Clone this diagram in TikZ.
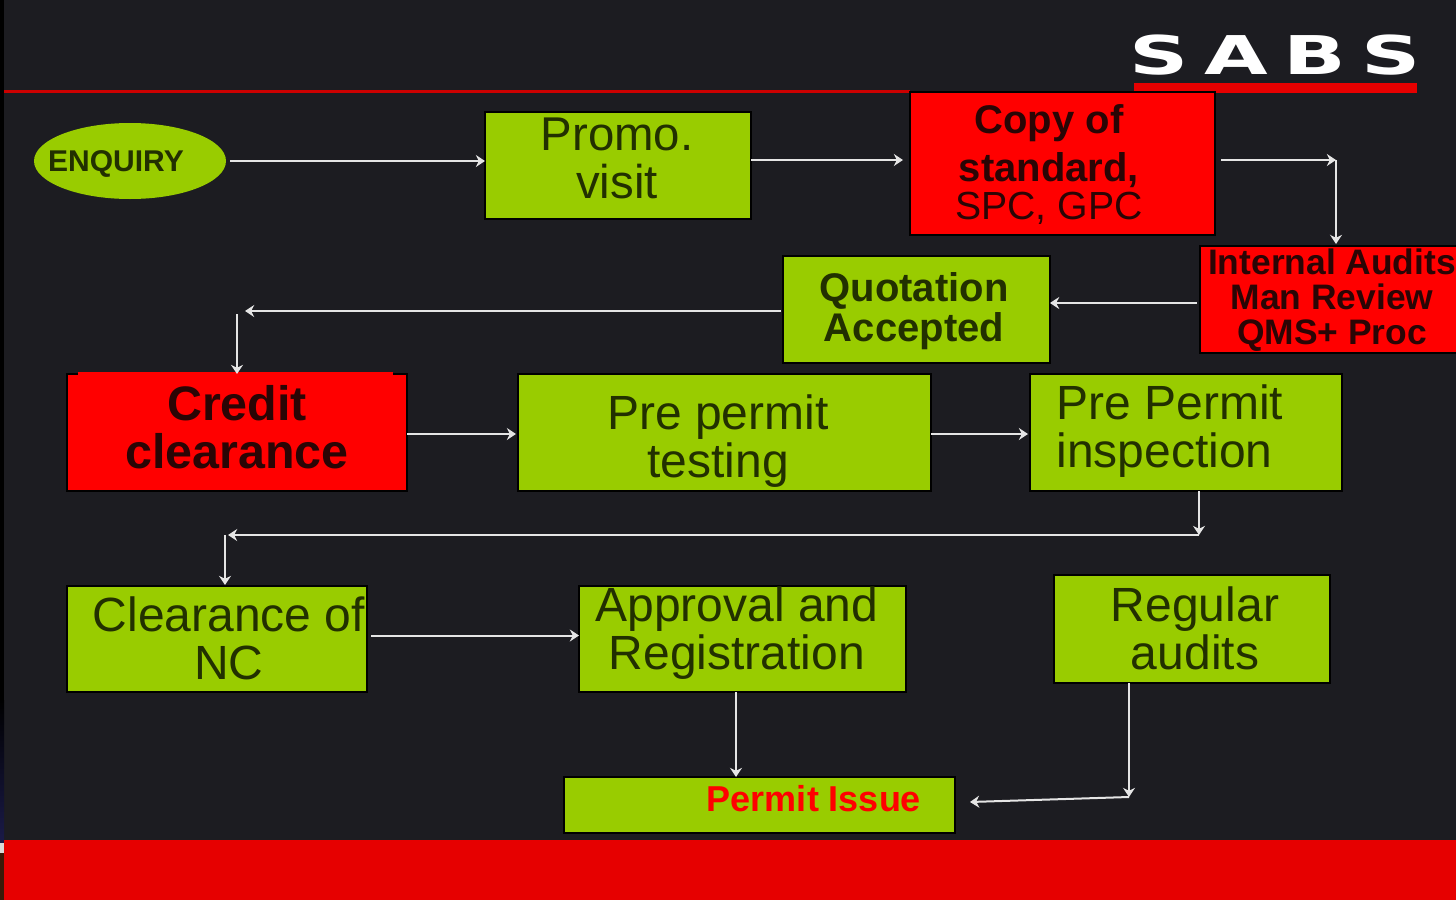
\documentclass[tikz,border=0pt]{standalone}
\usepackage{fontspec}
\setmainfont{Liberation Sans}
\newfontfamily\logofont{DejaVu Sans}
\usetikzlibrary{arrows.meta,shapes.geometric,calc}
\definecolor{bg}{HTML}{1C1C21}
\definecolor{grn}{HTML}{99CC00}
\definecolor{redbox}{HTML}{FF0000}
\definecolor{band}{HTML}{E60000}
\definecolor{rule}{HTML}{CC0000}
\definecolor{ink}{HTML}{223000}
\definecolor{inkred}{HTML}{2A0505}
\definecolor{stripnavy}{HTML}{1A1A48}
\definecolor{stripbrown}{HTML}{3A1A08}
\tikzset{
 x=.5pt,y=-.5pt,
 stepbox/.style={draw=black,line width=.9pt,inner sep=0pt,outer sep=0pt},
 greenbox/.style={stepbox,fill=grn},
 hotbox/.style={stepbox,fill=redbox},
 lab/.style={inner sep=0pt,align=center,text=ink},
 labred/.style={lab,text=inkred},
 conn/.style={draw=white!90!black,line width=1pt,-{Stealth[length=4.6pt,width=6pt]}},
}
\newcommand{\fs}[1]{\fontsize{#1}{24}\selectfont}
\begin{document}
\begin{tikzpicture}
\clip (0,0) rectangle (1456,900);
\fill[bg] (0,0) rectangle (1456,900);
\fill[black] (0,0) rectangle (4,700);
\shade[top color=black,bottom color=stripnavy] (0,700) rectangle (4,842);
\fill[band] (4,840) rectangle (1456,900);
\fill[white!85!black] (0,843) rectangle (4,853);
\fill[stripbrown] (0,853) rectangle (4,900);
\fill[rule] (4,89.5) rectangle (910,93);
% logo
\node[inner sep=0pt,text=white] (logo) at (1275,55.5) {\scalebox{1.54}[1]{\fontsize{26.7}{27}\logofont\addfontfeature{LetterSpace=19}\bfseries SABS}};
\fill[band] (1134,83) rectangle (1417,93);
% boxes
\node[fill=grn,ellipse,inner sep=0pt,outer sep=0pt,minimum width=96pt,minimum height=38pt] (enq) at (130,161) {};
\node[greenbox,minimum width=133pt,minimum height=53.5pt] (promo) at (618,165.5) {};
\node[hotbox,minimum width=152.5pt,minimum height=71.5pt] (copy) at (1062.5,163.5) {};
\node[hotbox,minimum width=130pt,minimum height=53.5pt] (internal) at (1330,299.5) {};
\node[greenbox,minimum width=133.5pt,minimum height=53.5pt] (quote) at (916.5,309.5) {};
\node[hotbox,minimum width=170pt,minimum height=58.5pt] (credit) at (237,432.5) {};
\fill[redbox] (78,372) rectangle (393,376);
\node[greenbox,minimum width=206.5pt,minimum height=58.5pt] (pretest) at (724.5,432.5) {};
\node[greenbox,minimum width=156pt,minimum height=58.5pt] (preinsp) at (1186,432.5) {};
\node[greenbox,minimum width=150pt,minimum height=53pt] (clear) at (217,639) {};
\node[greenbox,minimum width=163.5pt,minimum height=53pt] (approval) at (742.5,639) {};
\node[greenbox,minimum width=138pt,minimum height=54pt] (regular) at (1192,629) {};
\node[greenbox,minimum width=195.5pt,minimum height=28pt] (permit) at (759.5,805) {};
% helper corners
\coordinate (c1) at (1336,160);
\coordinate (c2) at (237,311);
\coordinate (c3) at (1199,535);
\coordinate (c4) at (225,535);
\coordinate (c5) at (1129,797);
% labels
\node[lab,font=\fs{15}\bfseries] (enqt) at (116,164) {ENQUIRY};
\node[lab,font=\fs{23.7}] (promot) at (617,158) {Promo.\\visit};
\node[labred,font=\fs{20}\bfseries] (copyt) at (1049,146) {Copy of\\standard,};
\node[labred,font=\fs{19.6}] (copyt2) at (1049,208) {SPC, GPC};
\node[labred,font=\fontsize{17.7}{17.5}\selectfont\bfseries] (internalt) at (1332,300) {Internal Audits\\Man Review\\QMS+ Proc};
\node[lab,font=\fontsize{20}{20}\selectfont\bfseries] (quotet) at (914,311) {Quotation\\Accepted};
\node[labred,font=\fs{24.2}\bfseries] (creditt) at (237,427) {Credit\\clearance};
\node[lab,font=\fs{24}] (pretestt) at (718,441) {Pre permit\\testing};
\node[lab,font=\fs{24},align=left,anchor=west] (preinspt) at (1056,431) {Pre Permit\\inspection};
\node[lab,font=\fs{24}] (cleart) at (229,638) {Clearance of\\NC};
\node[lab,font=\fs{24}] (approvalt) at (737,633) {Approval and\\Registration};
\node[lab,font=\fs{24}] (regulart) at (1195,628) {Regular\\audits};
\node[lab,text=redbox,font=\fs{18}\bfseries] (permitt) at (814,799) {Permit Issue};
% connectors
\draw[conn] ([xshift=2pt]enq.east) -- (enq.east -| promo.west);
\draw[conn] ([yshift=2.75pt]promo.east) -- ([yshift=2.75pt,xshift=-3.5pt]promo.east -| copy.west);
\draw[conn] ([xshift=3pt]copy.east |- c1) -- (c1);
\draw[conn] (c1) -- ([yshift=1pt]c1 |- internal.north);
\draw[conn] ([xshift=-1.5pt,yshift=-1.75pt]internal.west) -- ([yshift=-1.75pt]quote.east |- internal.west);
\draw[conn] ([xshift=-1pt,yshift=-.75pt]quote.west) -- ([xshift=4pt]c2);
\draw[conn] ([yshift=-1.5pt]c2) -- (c2 |- credit.north);
\draw[conn] ([yshift=-.75pt]credit.east) -- ([xshift=-1pt,yshift=-.75pt]credit.east -| pretest.west);
\draw[conn] ([yshift=-.75pt]pretest.east) -- ([xshift=-1pt,yshift=-.75pt]pretest.east -| preinsp.west);
\draw[conn] (c3 |- preinsp.south) -- (c3);
\draw[conn] (c3) -- ([xshift=1.5pt]c4);
\draw[conn] (c4) -- ([yshift=.5pt]c4 |- clear.north);
\draw[conn] ([xshift=2pt,yshift=1.75pt]clear.east) -- ([yshift=1.75pt]clear.east -| approval.west);
\draw[conn] ([xshift=-3.25pt]approval.south) -- ([xshift=-3.25pt]approval.south |- permit.north);
\draw[conn] (c5 |- regular.south) -- (c5);
\draw[conn] (c5) -- ([xshift=7.5pt,yshift=1.5pt]permit.east);
\end{tikzpicture}
\end{document}
